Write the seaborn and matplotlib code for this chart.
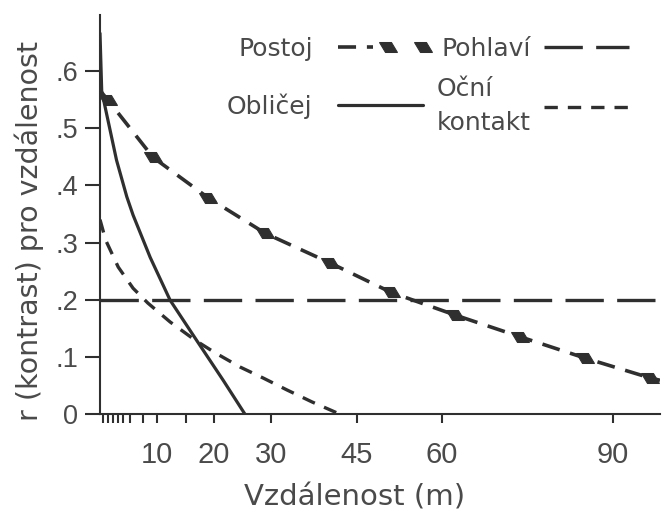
import matplotlib
matplotlib.use("Agg")
import matplotlib.pyplot as plt
import seaborn as sns
from matplotlib.markers import MarkerStyle
from matplotlib.transforms import Affine2D
from matplotlib.legend_handler import HandlerTuple

# values (x = distance in m, y = r)
postoj_x = [0, 1.4, 9.3, 19, 29, 40.4, 51, 62.3, 73.7, 85, 96.5, 98.2]
postoj_y = [0.566, 0.549, 0.449, 0.378, 0.316, 0.264, 0.213, 0.173, 0.135, 0.098, 0.063, 0.059]
postoj_mark_x = [1.4, 9.3, 19, 29, 40.4, 51, 62.3, 73.7, 85, 96.5]
postoj_mark_y = [0.549, 0.449, 0.378, 0.316, 0.264, 0.213, 0.173, 0.135, 0.098, 0.063]

oblicej_x = [0, 0.3, 0.9, 2.9, 4.7, 5.8, 8.8, 12.3, 17, 21.6, 25.4]
oblicej_y = [0.666, 0.565, 0.537, 0.444, 0.38, 0.348, 0.274, 0.199, 0.128, 0.059, 0.0]

pohlavi_x = [0, 98.2]
pohlavi_y = [0.2, 0.2]

ocni_x = [0, 1, 3.2, 5.8, 8.4, 12.3, 16.7, 20.2, 24.6, 28.6, 32.8, 37.2, 42]
ocni_y = [0.34, 0.304, 0.257, 0.22, 0.194, 0.161, 0.129, 0.107, 0.082, 0.063, 0.042, 0.021, 0.0]

x_major = [10, 20, 30, 45, 60, 90]
x_minor = [0.5, 1.4, 2.3, 3.2, 4.0, 5.3, 7.5, 15]
y_ticks = [0, 0.1, 0.2, 0.3, 0.4, 0.5, 0.6]
y_labels = ["0", ".1", ".2", ".3", ".4", ".5", ".6"]

line_c = "#2f2f2f"
text_c = "#4a4a4a"

sns.set_style("ticks")
plt.rcParams["font.family"] = ["DejaVu Sans"]

fig, ax = plt.subplots(figsize=(6.62, 5.21), dpi=100)
fig.subplots_adjust(left=100 / 662, right=660 / 662, bottom=107 / 521, top=506 / 521)

sns.lineplot(x=postoj_x, y=postoj_y, ax=ax, color=line_c, lw=2.6,
             linestyle=(0, (5, 3)), errorbar=None)
l_postoj = ax.lines[-1]
diamond = MarkerStyle("d", transform=Affine2D().rotate_deg(62))
sns.lineplot(x=postoj_mark_x, y=postoj_mark_y, ax=ax, color=line_c, linestyle="none",
             marker=diamond, markersize=10, markeredgecolor=line_c, errorbar=None)
m_postoj = ax.lines[-1]

sns.lineplot(x=oblicej_x, y=oblicej_y, ax=ax, color=line_c, lw=2.3, errorbar=None)
l_oblicej = ax.lines[-1]

sns.lineplot(x=pohlavi_x, y=pohlavi_y, ax=ax, color=line_c, lw=2.4,
             linestyle=(0, (11.5, 4)), errorbar=None)
l_pohlavi = ax.lines[-1]

sns.lineplot(x=ocni_x, y=ocni_y, ax=ax, color=line_c, lw=2.4,
             linestyle=(0, (4, 3)), errorbar=None)
l_ocni = ax.lines[-1]

ax.set_xlim(0, 98.2)
ax.set_ylim(0, 0.698)
sns.despine(ax=ax)
for side in ["left", "bottom"]:
    ax.spines[side].set_linewidth(1.5)
    ax.spines[side].set_color(line_c)

ax.set_xticks(x_major)
ax.set_xticks(x_minor, minor=True)
ax.set_yticks(y_ticks)
ax.set_yticklabels(y_labels)
ax.tick_params(axis="x", which="both", direction="out", length=6.5, width=1.5,
               color=line_c, pad=13, labelsize=21, labelcolor=text_c)
ax.tick_params(axis="y", direction="out", length=10.8, width=1.5,
               color=line_c, pad=5, labelsize=19.5, labelcolor=text_c)
for lab in ax.get_xticklabels() + ax.get_yticklabels():
    lab.set_fontfamily("Liberation Sans")

ax.set_xlabel("Vzdálenost (m)", fontsize=21, color=text_c)
ax.xaxis.set_label_coords(0.455, -0.175)
ax.set_ylabel("r (kontrast) pro vzdálenost", fontsize=20.5, color=text_c)
ax.yaxis.set_label_coords(-0.1, 0.459)

common = dict(loc="upper left", markerfirst=False, frameon=False, borderpad=0,
              borderaxespad=0, numpoints=2, prop={"size": 18}, labelcolor=text_c)
leg1 = ax.legend([(l_postoj, m_postoj), l_oblicej], ["Postoj", "Obličej"],
                 handler_map={tuple: HandlerTuple(ndivide=None)},
                 bbox_to_anchor=(0.227, 0.945), handlelength=4.0,
                 handletextpad=0.7, labelspacing=1.3, **common)
ax.add_artist(leg1)
leg2 = ax.legend([l_pohlavi, l_ocni], ["Pohlaví", "Oční\nkontakt"],
                 bbox_to_anchor=(0.602, 0.945), handlelength=4.0,
                 handletextpad=0.2, labelspacing=0.65, **common)
leg2.get_texts()[1].set_linespacing(1.5)

plt.savefig("out.png", dpi=100)
plt.close()
